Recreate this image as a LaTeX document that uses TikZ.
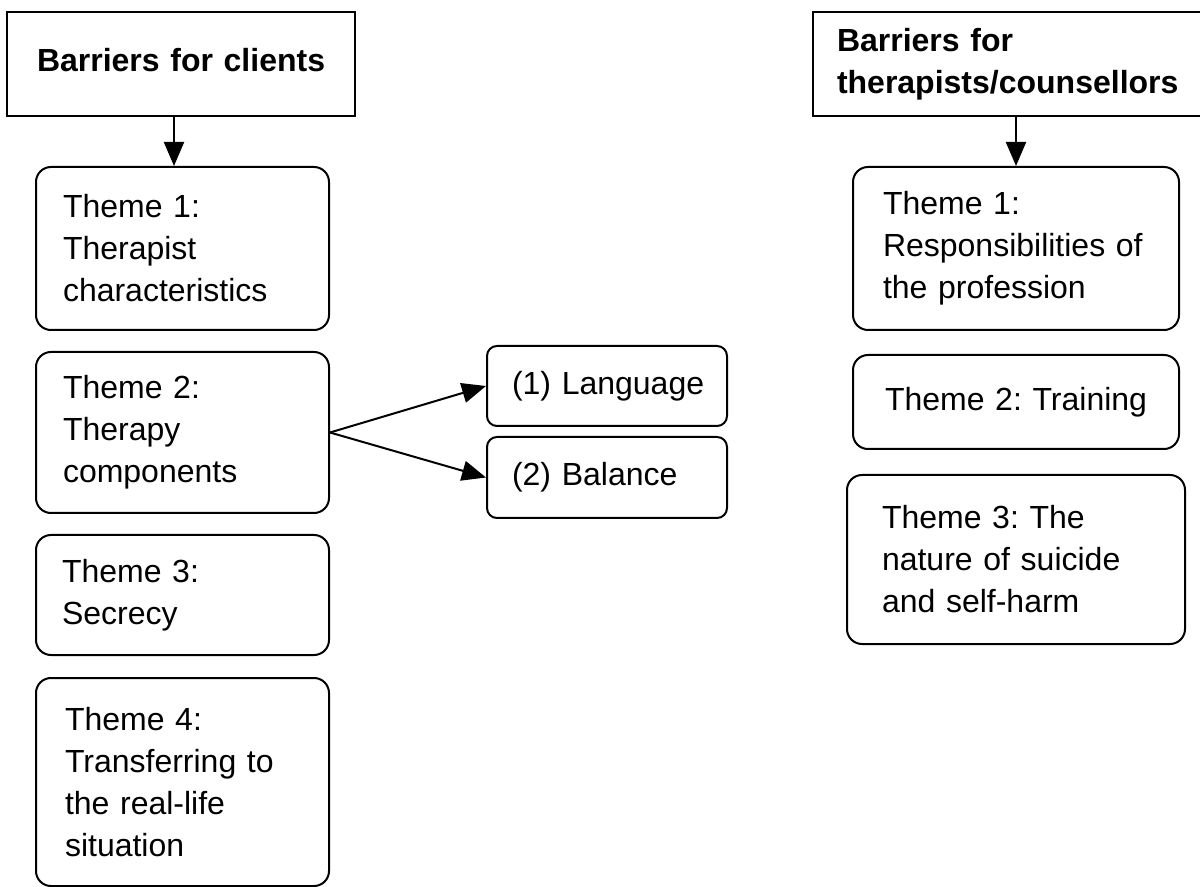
\documentclass[tikz,border=0pt]{standalone}
\usepackage{fontspec}
\setmainfont{Liberation Sans}
\usetikzlibrary{arrows.meta}
\frenchspacing

% one unbreakable text line inside a box
\newcommand{\tline}[1]{\mbox{#1}}

\tikzset{
  base/.style={draw, line width=1pt, align=left, inner ysep=0pt,
    font=\fontsize{16pt}{21pt}\selectfont},
  header/.style={base, font=\fontsize{16pt}{21pt}\selectfont\bfseries},
  theme/.style={base, rounded corners=7.5pt},
  sub/.style={base, rounded corners=5pt},
  link/.style={line width=1pt, -{Triangle[length=12pt,width=10pt]}},
}

\begin{document}
\begin{tikzpicture}[x=0.5pt, y=-0.5pt]
\clip (0,0) rectangle (1200,887);
\fill[white] (0,0) rectangle (1200,887);

% client-side column
\node[header, minimum width=174pt, minimum height=52pt, text width=144pt,
      inner xsep=15pt, text height=12pt, text depth=4pt]
  (hdrL) at (181,64) {\tline{Barriers for clients}};
\node[theme, minimum height=81.5pt, text width=119.5pt, inner xsep=13.5pt]
  (L1) at (182.5,248.5) {\tline{Theme 1:}\\\tline{Therapist}\\\tline{characteristics}};
\node[theme, minimum height=80.5pt, text width=119.5pt, inner xsep=13.5pt]
  (L2) at (182.5,432.5) {\tline{Theme 2:}\\\tline{Therapy}\\\tline{components}};
\node[theme, minimum height=60pt, text width=120.5pt, inner xsep=13pt]
  (L3) at (182.5,595) {\tline{Theme 3:}\\\tline{Secrecy}};
\node[theme, minimum height=104pt, text width=117.5pt, inner xsep=14.5pt]
  (L4) at (182.5,782) {\tline{Theme 4:}\\\tline{Transferring to}\\\tline{the real-life}\\\tline{situation}};

% sub-themes of theme 2
\node[sub, minimum height=40pt, text width=95pt, inner xsep=12.5pt]
  (lang) at (607,386) {\tline{(1) Language}};
\node[sub, minimum height=40.5pt, text width=95pt, inner xsep=12.5pt]
  (bal) at (607,477.5) {\tline{(2) Balance}};

% therapist-side column
\node[header, minimum width=201pt, minimum height=52pt, text width=177pt,
      inner xsep=12pt]
  (hdrR) at (1014,64) {\tline{Barriers for}\\\tline{therapists/counsellors}};
\node[theme, minimum height=81.5pt, text width=133pt, inner xsep=15pt]
  (R1) at (1016,248.5) {\tline{Theme 1:}\\\tline{Responsibilities of}\\\tline{the profession}};
\node[theme, minimum height=47pt, text width=131pt, inner xsep=16pt]
  (R2) at (1016,402) {\tline{Theme 2: Training}};
\node[theme, minimum height=84.5pt, text width=134pt, inner xsep=17.5pt]
  (R3) at (1016,559.5) {\tline{Theme 3: The}\\\tline{nature of suicide}\\\tline{and self-harm}};

% connectors
\draw[link] ([xshift=-3.5pt]hdrL.south) -- ([xshift=-3.5pt]hdrL.south |- L1.north);
\draw[link] (R1.north |- hdrR.south) -- (R1.north);
\draw[link] (L2.east) -- (lang.west);
\draw[link] (L2.east) -- (bal.west);
\end{tikzpicture}
\end{document}
